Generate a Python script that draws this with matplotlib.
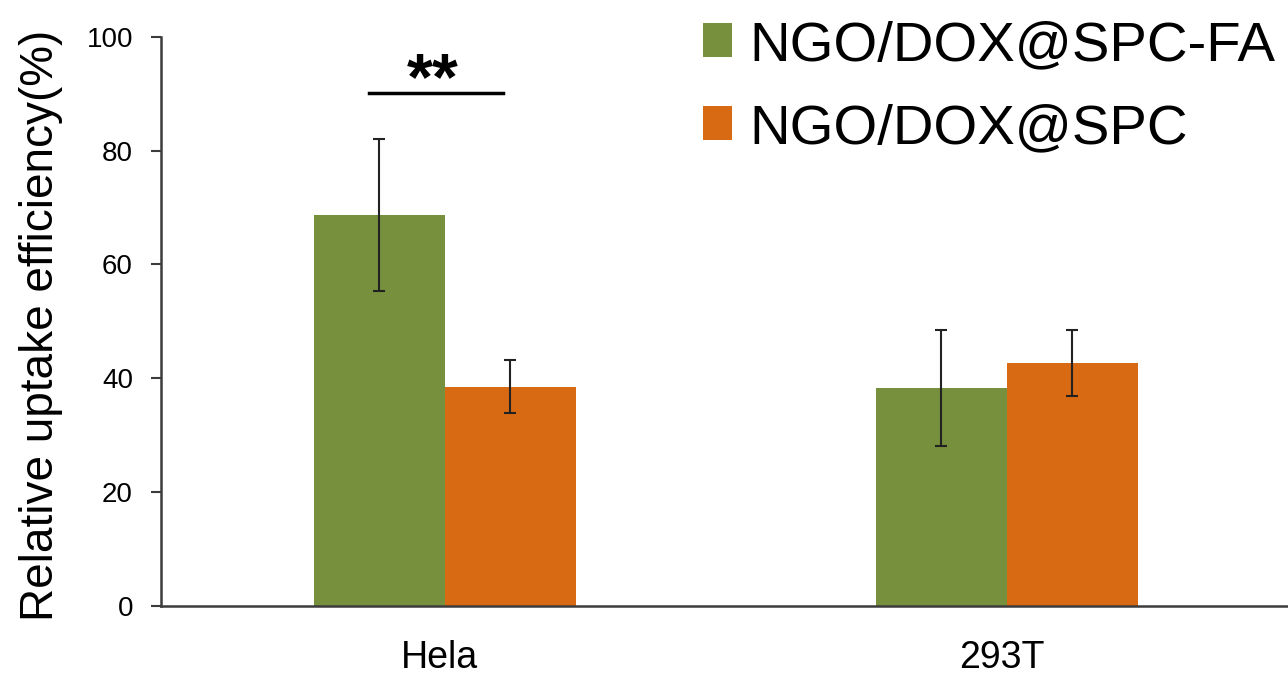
import matplotlib
matplotlib.use("Agg")
import matplotlib.pyplot as plt
import matplotlib.transforms as mtransforms
import numpy as np

plt.rcParams['font.family'] = ['Liberation Sans', 'DejaVu Sans']

# Data
cells = ["Hela", "293T"]
groups = ["NGO/DOX@SPC-FA", "NGO/DOX@SPC"]
uptake_fa = [68.7, 38.2]
err_fa = [13.4, 10.2]
uptake_spc = [38.5, 42.6]
err_spc = [4.7, 5.8]
yticks = [0, 20, 40, 60, 80, 100]

green = '#76903D'
orange = '#D96A14'
axis_col = '#3c3c3c'

fig = plt.figure(figsize=(12.88, 6.82), dpi=100)
ax = fig.add_axes([0.125, 0.112, 0.875, 0.834])

x = np.arange(len(cells))
w = 0.233

ax.bar(x - w / 2, uptake_fa, w, color=green, label=groups[0])
ax.bar(x + w / 2, uptake_spc, w, color=orange, label=groups[1])
ax.errorbar(x - w / 2, uptake_fa, yerr=err_fa, fmt='none', ecolor='#222222',
            elinewidth=1.5, capsize=4.5, capthick=1.5)
ax.errorbar(x + w / 2, uptake_spc, yerr=err_spc, fmt='none', ecolor='#222222',
            elinewidth=1.5, capsize=4.5, capthick=1.5)

# significance marker over Hela
ax.plot([-0.135, 0.103], [90.2, 90.2], color='black', lw=2.5)
ax.text(-0.022, 89.0, "**", ha='center', va='baseline', fontsize=48, fontweight='bold')

ax.set_xlim(-0.505, 1.5)
ax.set_ylim(0, 100)
ax.set_yticks(yticks)
ax.set_xticks(x)
ax.set_xticklabels(cells, fontsize=27)
ax.tick_params(axis='x', length=0, pad=25)
ax.tick_params(axis='y', length=7.2, width=1.5, color=axis_col, labelsize=20, pad=13)

# nudge category labels slightly left
shift = mtransforms.ScaledTranslation(-5 / 100, 0, fig.dpi_scale_trans)
for lab in ax.get_xticklabels():
    lab.set_transform(lab.get_transform() + shift)

for s in ['top', 'right']:
    ax.spines[s].set_visible(False)
for s in ['left', 'bottom']:
    ax.spines[s].set_color(axis_col)
    ax.spines[s].set_linewidth(1.8)

ax.set_ylabel("Relative uptake efficiency(%)", fontsize=33)
ax.yaxis.set_label_coords(-0.087, 0.493)

ax.legend(loc='upper right', bbox_to_anchor=(1.012, 1.012), bbox_transform=fig.transFigure,
          fontsize=40.5, frameon=False, handlelength=0.53, handleheight=0.53,
          handletextpad=0.3, labelspacing=0.55, borderaxespad=0.1)

fig.savefig("out.png", dpi=100)
